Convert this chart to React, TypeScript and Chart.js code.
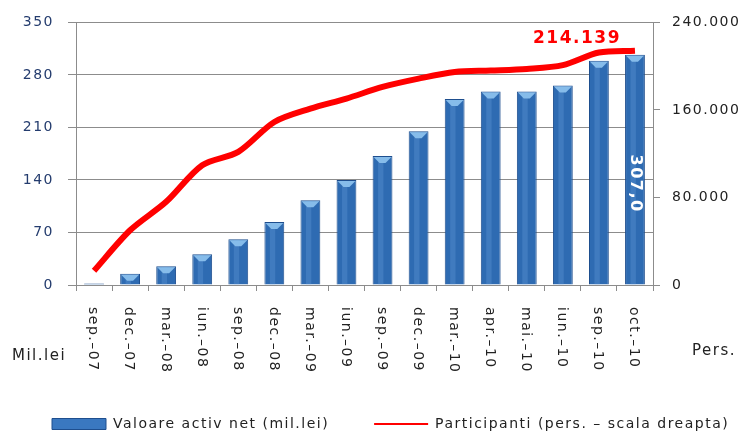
import React, { useEffect, useRef } from 'react';
import { Chart, registerables } from 'chart.js';

Chart.register(...registerables);

const categories = [
  'sep.–07', 'dec.–07', 'mar.–08', 'iun.–08', 'sep.–08', 'dec.–08', 'mar.–09', 'iun.–09',
  'sep.–09', 'dec.–09', 'mar.–10', 'apr.–10', 'mai.–10', 'iun.–10', 'sep.–10', 'oct.–10',
];
const netAssetValues = [2, 15, 25, 41, 61, 84, 113, 140, 172, 205, 248, 258, 258, 266, 299, 307];
const participants = [
  13000, 50000, 76000, 109500, 121700, 149000, 161200, 170400,
  181000, 188600, 194700, 196000, 197500, 201000, 212500, 214139,
];
const leftTicks = [0, 70, 140, 210, 280, 350];
const rightTicks = [0, 80000, 160000, 240000];
const seriesNames = ['Valoare activ net (mil.lei)', 'Participanti (pers. – scala dreapta)'];
const leftUnit = 'Mil.lei';
const rightUnit = 'Pers.';

const FONT = '"DejaVu Sans", Verdana, sans-serif';
const fmtThousands = (v: number) => String(Math.round(v)).replace(/\B(?=(\d{3})+(?!\d))/g, '.');
const fmtDecimal = (v: number) => v.toFixed(1).replace('.', ',');

const spacingPlugin = {
  id: 'spacing',
  beforeUpdate(c: any) { c.ctx.letterSpacing = '1.5px'; },
  beforeLayout(c: any) { c.ctx.letterSpacing = '1.5px'; },
  beforeDraw(c: any) { c.ctx.letterSpacing = '1.5px'; },
};

const extrasPlugin = {
  id: 'extras',
  afterDatasetDraw(c: any, args: any) {
    if (args.index !== 0) return;
    const ctx = c.ctx;
    const meta = c.getDatasetMeta(0);
    ctx.save();
    meta.data.forEach((el: any) => {
      const { x, y, width, base } = el.getProps(['x', 'y', 'width', 'base'], true);
      if (base - y < 4) return;
      const hw = width / 2 - 1;
      // subtle lighter centre stripe for the 3D look
      ctx.fillStyle = 'rgba(120,170,230,0.25)';
      ctx.fillRect(x - hw / 2, y + 1, hw * 0.6, base - y - 1);
      ctx.fillStyle = '#86BCEA';
      ctx.beginPath();
      ctx.moveTo(x - hw, y + 1);
      ctx.lineTo(x + hw, y + 1);
      ctx.lineTo(x + 3, y + 7);
      ctx.lineTo(x - 3, y + 7);
      ctx.closePath();
      ctx.fill();
    });
    const last = meta.data[meta.data.length - 1];
    const { x, y, base } = last.getProps(['x', 'y', 'base'], true);
    ctx.translate(x, (y + base) / 2 + 14);
    ctx.rotate(Math.PI / 2);
    ctx.font = `bold 16px ${FONT}`;
    ctx.fillStyle = '#FFFFFF';
    ctx.textAlign = 'center';
    ctx.textBaseline = 'middle';
    ctx.fillText(fmtDecimal(netAssetValues[netAssetValues.length - 1]), 0, 0);
    ctx.restore();
  },
  afterDatasetsDraw(c: any) {
    const ctx = c.ctx;
    const meta = c.getDatasetMeta(1);
    const pt = meta.data[meta.data.length - 1];
    ctx.save();
    ctx.font = `bold 17px ${FONT}`;
    ctx.fillStyle = '#FF0000';
    ctx.textAlign = 'right';
    ctx.textBaseline = 'middle';
    ctx.fillText(fmtThousands(participants[participants.length - 1]), pt.x - 14, pt.y - 12);
    ctx.restore();
  },
  afterDraw(c: any) {
    const ctx = c.ctx;
    const area = c.chartArea;
    const xs = c.scales.x;
    ctx.save();
    ctx.font = `14px ${FONT}`;
    ctx.fillStyle = '#222222';
    ctx.textAlign = 'left';
    ctx.textBaseline = 'middle';
    categories.forEach((lab, i) => {
      const px = xs.getPixelForTick(i);
      ctx.save();
      ctx.translate(px - 1, area.bottom + 22);
      ctx.rotate(Math.PI / 2);
      ctx.fillText(lab, 0, 0);
      ctx.restore();
    });
    ctx.font = `15px ${FONT}`;
    ctx.fillText(leftUnit, area.left - 64, area.bottom + 71);
    ctx.fillText(rightUnit, area.right + 39, area.bottom + 66);
    ctx.restore();
  },
};

export default function App() {
  const ref = useRef<HTMLCanvasElement | null>(null);

  useEffect(() => {
    if (!ref.current) return;
    Chart.defaults.font.family = FONT;
    const chart = new Chart(ref.current, {
      type: 'bar',
      data: {
        labels: categories,
        datasets: [
          {
            type: 'bar',
            label: seriesNames[0],
            data: netAssetValues,
            backgroundColor: '#2E6BB2',
            borderColor: '#1E4E8E',
            borderWidth: 1,
            barPercentage: 0.55,
            categoryPercentage: 1,
            yAxisID: 'y',
            order: 1,
          } as any,
          {
            type: 'line',
            label: seriesNames[1],
            data: participants,
            borderColor: '#FF0000',
            backgroundColor: '#FF0000',
            borderWidth: 6,
            tension: 0.3,
            pointRadius: 0,
            yAxisID: 'y1',
            order: 0,
          } as any,
        ],
      },
      options: {
        responsive: false,
        animation: false,
        devicePixelRatio: 1,
        layout: { padding: { left: 7, right: -40, top: 22, bottom: -8 } },
        plugins: {
          title: { display: false },
          tooltip: { enabled: false },
          legend: {
            display: true,
            position: 'bottom',
            align: 'start',
            labels: {
              usePointStyle: true,
              pointStyleWidth: 54,
              boxHeight: 11,
              padding: 45,
              color: '#222222',
              font: { size: 14, family: FONT },
              generateLabels(c: any) {
                const items = Chart.defaults.plugins.legend.labels.generateLabels(c);
                items.sort((a: any, b: any) => a.datasetIndex - b.datasetIndex);
                items.forEach((it: any) => {
                  if (it.datasetIndex === 0) {
                    it.pointStyle = 'rect';
                    it.fillStyle = '#3A78C0';
                    it.strokeStyle = '#1E4E8E';
                    it.lineWidth = 1;
                  } else {
                    it.pointStyle = 'line';
                    it.strokeStyle = '#FF0000';
                    it.lineWidth = 2;
                  }
                });
                return items;
              },
            },
          },
        },
        scales: {
          x: {
            offset: true,
            grid: {
              offset: true,
              drawOnChartArea: false,
              drawTicks: true,
              tickLength: 6,
              color: '#8C8C8C',
            },
            border: { display: true, color: '#8C8C8C' },
            ticks: { display: false },
            afterFit(s: any) { s.height = 87; },
          },
          y: {
            position: 'left',
            min: leftTicks[0],
            max: leftTicks[leftTicks.length - 1],
            ticks: {
              stepSize: leftTicks[1] - leftTicks[0],
              color: '#243C6E',
              padding: 14,
              font: { size: 14, family: FONT },
            },
            grid: { color: '#8C8C8C', tickLength: 8, lineWidth: 1 },
            border: { display: true, color: '#8C8C8C' },
            afterFit(s: any) { s.width = 69; },
          },
          y1: {
            position: 'right',
            min: rightTicks[0],
            max: rightTicks[rightTicks.length - 1],
            ticks: {
              stepSize: rightTicks[1] - rightTicks[0],
              color: '#222222',
              padding: 12,
              font: { size: 14, family: FONT },
              callback: (v: any) => fmtThousands(Number(v)),
            },
            grid: { drawOnChartArea: false, tickLength: 7, color: '#8C8C8C' },
            border: { display: true, color: '#8C8C8C' },
            afterFit(s: any) { s.width = 138; },
          },
        },
      },
      plugins: [spacingPlugin, extrasPlugin],
    } as any);
    return () => chart.destroy();
  }, []);

  return (
    <div style={{ position: 'fixed', left: 0, top: 0, width: 751, height: 433, background: '#fff' }}>
      <canvas ref={ref} width={751} height={433} />
    </div>
  );
}
